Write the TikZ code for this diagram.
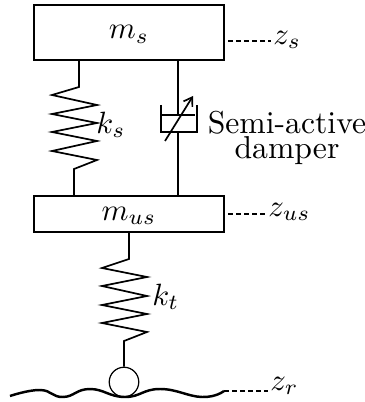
\documentclass[tikz,border=0pt]{standalone}
\usetikzlibrary{arrows.meta}

\begin{document}
\begin{tikzpicture}
[x=0.325pt,y=-0.325pt,%
  lineDecorate/.style={-,line width=0.55pt},%
  massDecorate/.style={shape=rectangle,draw,line width=0.72pt,minimum width=62pt,inner sep=0pt,text height=5.6pt},%
  dashDecorate/.style={-,line width=0.72pt,dash pattern=on 1.7pt off 0.9pt},%
  labelDecorate/.style={inner sep=0.6pt,anchor=west}]
\useasboundingbox (0,0) rectangle (364,402);
%% masses
\node (ms) at (129,32.5) [massDecorate,minimum height=17.9pt] {$m_s$};
\node (mus) at (129,214) [massDecorate,minimum height=11.7pt] {$m_{us}$};
%% wheel
\node (wheel) at (124,382) [shape=circle,draw,line width=0.4pt,minimum size=9.6pt,inner sep=0pt] {};
%% labels
\node (ks) at (94,125) [labelDecorate] {$k_s$};
\node (kt) at (150,297) [labelDecorate] {$k_t$};
\node (zs) at (271,40) [labelDecorate] {$z_s$};
\node (zus) at (266,212) [labelDecorate] {$z_{us}$};
\node (zr) at (268,386) [labelDecorate] {$z_r$};
\node (damperlabel) at (287,138) [align=center,inner sep=0pt,scale=1.03] {Semi-active\\[-4.2pt]damper};
%% spring and damper ends
\foreach \nodename/\x/\y in {
  a1/79/60, a2/79/87, a3/52/95, a4/97/105, a5/52/114, a6/97/123, a7/52/132,
  a8/97/141, a9/52/151, a10/97/160, a11/74/169, a12/74/196,
  b1/129/232, b2/129/259, b3/102/268, b4/147/277, b5/102/286, b6/147/296,
  b7/102/305, b8/147/314, b9/102/323, b10/147/332, b11/124/341,
  d1/178/60, d2/178/115, d3/161/115, d4/195/115, d5/161/105, d6/161/132,
  d7/197/132, d8/197/105, d9/178/132, d10/178/196, d11/165/141, d12/193/96,
  zs0/228/41, zus0/228/214, zr0/224/391}
{
  \coordinate (\nodename) at (\x,\y);
}
%% springs
\draw[lineDecorate] (a1) -- (a2) -- (a3) -- (a4) -- (a5) -- (a6) -- (a7) -- (a8) -- (a9) -- (a10) -- (a11) -- (a12);
\draw[lineDecorate] (b1) -- (b2) -- (b3) -- (b4) -- (b5) -- (b6) -- (b7) -- (b8) -- (b9) -- (b10) -- (b11) -- (wheel.north -| b11);
%% damper
\draw[lineDecorate] (d1) -- (d2);
\draw[lineDecorate] (d3) -- (d4);
\draw[lineDecorate] (d5) -- (d6) -- (d7) -- (d8);
\draw[lineDecorate] (d9) -- (d10);
\draw[lineDecorate,-{Straight Barb[length=2.6pt,width=3.4pt]}] (d11) -- (d12);
%% displacement marks
\draw[dashDecorate] (zs0) -- (zs0 -| zs.west);
\draw[dashDecorate] (zus0) -- (zus0 -| zus.west);
\draw[dashDecorate] (zr0) -- (zr0 -| zr.west);
%% road
\draw[line width=0.8pt] plot[smooth,tension=0.8] coordinates {
  (10,396) (40,390) (63,397) (90,389) (125,397) (160,389) (202,397) (224,391)};
\end{tikzpicture}
\end{document}
